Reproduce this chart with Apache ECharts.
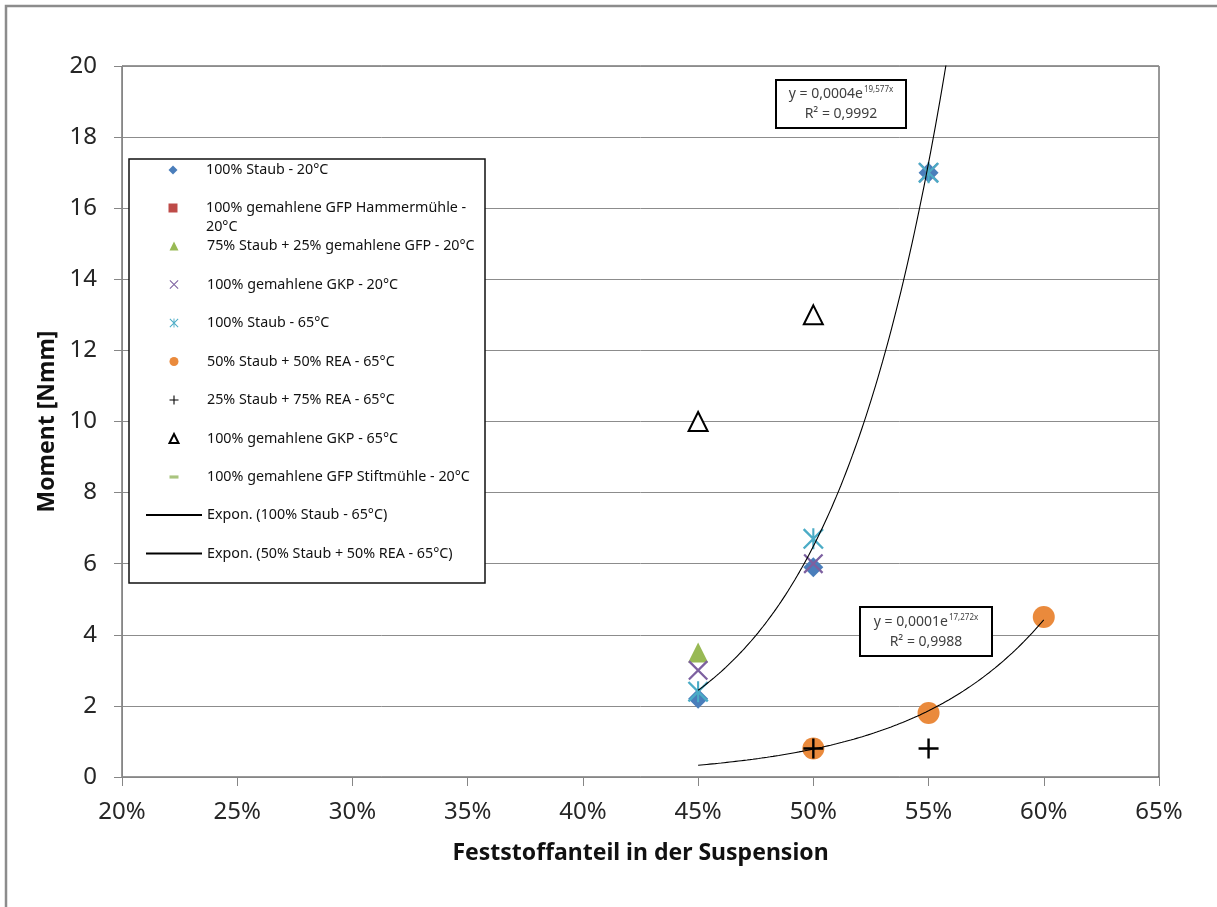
<!DOCTYPE html>
<html>
<head>
<meta charset="utf-8">
<script src="https://cdn.jsdelivr.net/npm/echarts@6/dist/echarts.min.js"></script>
<style>
html,body{margin:0;padding:0;background:#fff;}
#chart{width:1217px;height:907px;}
</style>
</head>
<body>
<div id="chart"></div>
<script>
// ---------- axis ranges ----------
const xAxisMin = 20, xAxisMax = 65, xAxisStep = 5;   // percent
const yAxisMin = 0, yAxisMax = 20, yAxisStep = 2;    // Nmm

// ---------- series names ----------
const seriesNames = [
  '100% Staub - 20°C',
  '100% gemahlene GFP Hammermühle - 20°C',
  '75% Staub + 25% gemahlene GFP - 20°C',
  '100% gemahlene GKP - 20°C',
  '100% Staub - 65°C',
  '50% Staub + 50% REA - 65°C',
  '25% Staub + 75% REA - 65°C',
  '100% gemahlene GKP - 65°C',
  '100% gemahlene GFP Stiftmühle - 20°C'
];
const trendNames = ['Expon. (100% Staub - 65°C)', 'Expon. (50% Staub + 50% REA - 65°C)'];

// ---------- data: [Feststoffanteil %, Moment Nmm] ----------
const staub20        = [[45, 2.2], [50, 5.9], [55, 17.0]];
const gfpHammer20    = [];
const staub75gfp25   = [[45, 3.5]];
const gkp20          = [[45, 3.0], [50, 6.0], [55, 17.0]];
const staub65        = [[45, 2.4], [50, 6.7], [55, 17.0]];
const staub50rea50   = [[50, 0.8], [55, 1.8], [60, 4.5]];
const staub25rea75   = [[50, 0.8], [55, 0.8]];
const gkp65          = [[45, 10.0], [50, 13.0]];
const gfpStift20     = [];

// trendline extents (Excel forecast range), in %
const trendStaub65Range = [45, 57];
const trendRea50Range   = [45, 60];

// equation labels
const eqStaub65 = { a: '0,0004', b: '19,577x', r2: '0,9992' };
const eqRea50   = { a: '0,0001', b: '17,272x', r2: '0,9988' };

// ---------- exponential least-squares fit (like Excel) ----------
function expTrend(points, range, n) {
  const xs = points.map(p => p[0] / 100);
  const ls = points.map(p => Math.log(p[1]));
  const m = xs.length;
  const mx = xs.reduce((s, v) => s + v, 0) / m;
  const ml = ls.reduce((s, v) => s + v, 0) / m;
  let sxy = 0, sxx = 0;
  for (let i = 0; i < m; i++) { sxy += (xs[i] - mx) * (ls[i] - ml); sxx += (xs[i] - mx) ** 2; }
  const b = sxy / sxx, a = Math.exp(ml - b * mx);
  const out = [];
  for (let i = 0; i <= n; i++) {
    const x = range[0] + (range[1] - range[0]) * i / n;
    out.push([x, a * Math.exp(b * x / 100)]);
  }
  return out;
}

// ---------- marker shapes ----------
const pathX    = 'path://M0 8L8 0L100 92L92 100Z M92 0L100 8L8 100L0 92Z';
const pathStar = 'path://M0 8L8 0L100 92L92 100Z M92 0L100 8L8 100L0 92Z M45 0L55 0L55 100L45 100Z';
const pathPlus = 'path://M44 0L56 0L56 100L44 100Z M0 44L100 44L100 56L0 56Z';
const pathDash = 'path://M0 0L100 0L100 35L0 35Z';

const FONT = 'Noto Sans';

const scatterDefs = [
  { data: staub20,      symbol: 'diamond',  size: 20, color: '#4A7EBB' },
  { data: gfpHammer20,  symbol: 'rect',     size: 16, color: '#BE4B48' },
  { data: staub75gfp25, symbol: 'triangle', size: 20, color: '#98B954' },
  { data: gkp20,        symbol: pathX,      size: 20, color: '#7D60A0' },
  { data: staub65,      symbol: pathStar,   size: 21, color: '#4BACC6' },
  { data: staub50rea50, symbol: 'circle',   size: 22, color: '#EA8A3C' },
  { data: staub25rea75, symbol: pathPlus,   size: 20, color: '#000000' },
  { data: gkp65,        symbol: 'triangle', size: 19, color: '#FFFFFF', border: '#000000' },
  { data: gfpStift20,   symbol: pathDash,   size: [18, 6], color: '#A9C47F' }
];

const series = scatterDefs.map((d, i) => ({
  name: seriesNames[i],
  type: 'scatter',
  data: d.data,
  symbol: d.symbol,
  symbolSize: d.size,
  z: 2 + i * 0.01,
  itemStyle: d.border
    ? { color: d.color, borderColor: d.border, borderWidth: 2, opacity: 1 }
    : { color: d.color, opacity: 1 },
  emphasis: { disabled: true }
}));

[staub65, staub50rea50].forEach((pts, k) => {
  series.push({
    name: trendNames[k], type: 'line',
    data: expTrend(pts, k === 0 ? trendStaub65Range : trendRea50Range, 120),
    symbol: 'none', showSymbol: false, clip: true, z: 3,
    itemStyle: { color: 'rgba(0,0,0,0)' },
    lineStyle: { color: '#000', width: 1.1 },
    emphasis: { disabled: true }
  });
});

const legendText = { fontFamily: FONT, fontSize: 14.3, lineHeight: 18, color: '#111' };
const markerCenterX = 173, textLeftX = 206;

function scatterLegend(indices, top, extra, textExtra) {
  return Object.assign({
    orient: 'vertical', left: markerCenterX - 4.5, top: top, padding: 0,
    itemWidth: 9, itemHeight: 9, itemGap: 20.5,
    selectedMode: false, z: 5,
    textStyle: Object.assign({}, legendText, { padding: [0, 0, 0, textLeftX - (markerCenterX + 4.5) - 5] }, textExtra || {}),
    data: indices.map(i => ({ name: seriesNames[i], icon: scatterDefs[i].symbol }))
  }, extra || {});
}

const option = {
  animation: false,
  backgroundColor: '#fff',
  textStyle: { fontFamily: FONT },
  grid: { left: 122, top: 66, right: 58, bottom: 130, show: true, borderColor: '#333', borderWidth: 1, backgroundColor: 'transparent' },
  xAxis: {
    type: 'value', min: xAxisMin, max: xAxisMax, interval: xAxisStep,
    name: 'Feststoffanteil in der Suspension', nameLocation: 'middle', nameGap: 62,
    nameMoveOverlap: false,
    nameTextStyle: { fontFamily: FONT, fontSize: 23, fontWeight: 'bold', color: '#111', lineHeight: 28 },
    axisLine: { show: true, lineStyle: { color: '#868686', width: 1 } },
    axisTick: { show: true, inside: false, length: 9, lineStyle: { color: '#868686' } },
    axisLabel: { formatter: '{value}%', fontSize: 24, margin: 21, color: '#262626', lineHeight: 28 },
    splitLine: { show: false }
  },
  yAxis: {
    type: 'value', min: yAxisMin, max: yAxisMax, interval: yAxisStep,
    name: 'Moment [Nmm]', nameLocation: 'middle', nameGap: 61, nameRotate: 90,
    nameMoveOverlap: false,
    nameTextStyle: { fontFamily: FONT, fontSize: 23, fontWeight: 'bold', color: '#111', lineHeight: 28 },
    axisLine: { show: true, lineStyle: { color: '#868686', width: 1 } },
    axisTick: { show: true, inside: false, length: 8, lineStyle: { color: '#868686' } },
    axisLabel: { fontSize: 24, margin: 25, color: '#262626' },
    splitLine: { show: true, lineStyle: { color: '#8c8c8c', width: 1 } }
  },
  legend: [
    scatterLegend([0], 161),
    scatterLegend([1], 179.5, { formatter: name => '\n' + name.replace(' - ', ' -\n') }, { lineHeight: 19 }),
    scatterLegend([2, 3, 4, 5, 6, 7, 8], 237),
    {
      orient: 'vertical', left: 145, top: 506, padding: 0,
      itemWidth: 56, itemHeight: 9, itemGap: 20.5,
      selectedMode: false, z: 5,
      textStyle: legendText,
      data: trendNames
    }
  ],
  graphic: [
    { type: 'rect', z: -10, silent: true, shape: { x: 6, y: 6, width: 1300, height: 1000 },
      style: { fill: 'none', stroke: '#8c8c8c', lineWidth: 2.5 } },
    { type: 'rect', z: 4, silent: true, shape: { x: 129, y: 159, width: 356, height: 424 },
      style: { fill: '#fff', stroke: '#111', lineWidth: 1.5 } },
    { type: 'rect', z: 6, silent: true, shape: { x: 776, y: 80, width: 130, height: 48 },
      style: { fill: '#fff', stroke: '#000', lineWidth: 2 } },
    { type: 'text', z: 7, silent: true, x: 841, y: 104,
      style: {
        text: '{n|y = ' + eqStaub65.a + 'e}{s|' + eqStaub65.b + '}\n{n|R² = ' + eqStaub65.r2 + '}',
        align: 'center', verticalAlign: 'middle',
        rich: {
          n: { fontFamily: FONT, fontSize: 14, lineHeight: 20, fill: '#404040' },
          s: { fontFamily: FONT, fontSize: 8, lineHeight: 20, fill: '#404040', verticalAlign: 'top', padding: [2, 0, 0, 1] }
        }
      } },
    { type: 'rect', z: 6, silent: true, shape: { x: 860, y: 607, width: 132, height: 49 },
      style: { fill: '#fff', stroke: '#000', lineWidth: 2 } },
    { type: 'text', z: 7, silent: true, x: 926, y: 632,
      style: {
        text: '{n|y = ' + eqRea50.a + 'e}{s|' + eqRea50.b + '}\n{n|R² = ' + eqRea50.r2 + '}',
        align: 'center', verticalAlign: 'middle',
        rich: {
          n: { fontFamily: FONT, fontSize: 14, lineHeight: 20, fill: '#404040' },
          s: { fontFamily: FONT, fontSize: 8, lineHeight: 20, fill: '#404040', verticalAlign: 'top', padding: [2, 0, 0, 1] }
        }
      } }
  ],
  series: series
};

const chart = echarts.init(document.getElementById('chart'), null, { renderer: 'canvas' });
chart.setOption(option);
</script>
</body>
</html>
